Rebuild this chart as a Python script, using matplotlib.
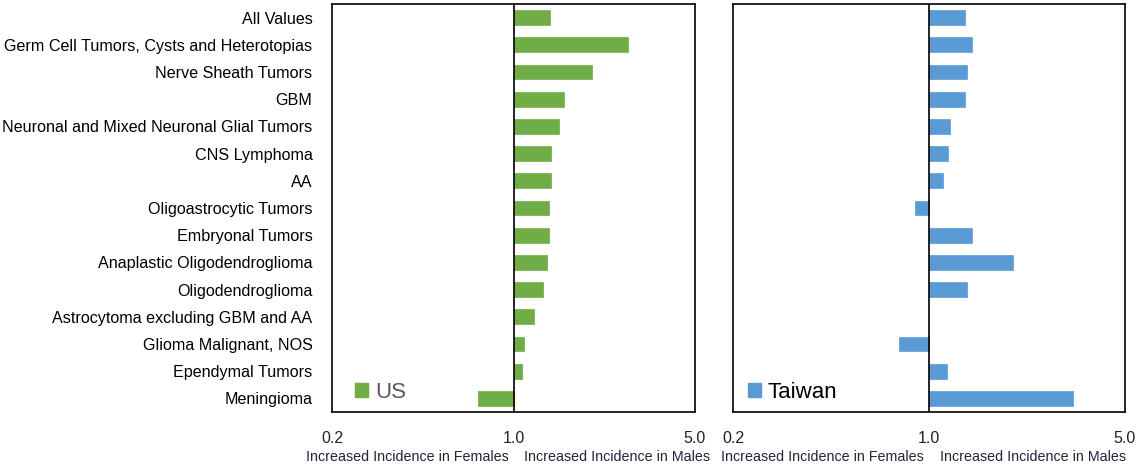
import numpy as np
import matplotlib
matplotlib.use('Agg')
import matplotlib.pyplot as plt
from matplotlib.patches import Patch

plt.rcParams['font.family'] = ['Liberation Sans', 'DejaVu Sans']

categories = ["All Values",
              "Germ Cell Tumors, Cysts and Heterotopias",
              "Nerve Sheath Tumors",
              "GBM",
              "Neuronal and Mixed Neuronal Glial Tumors",
              "CNS Lymphoma",
              "AA",
              "Oligoastrocytic Tumors",
              "Embryonal Tumors",
              "Anaplastic Oligodendroglioma",
              "Oligodendroglioma",
              "Astrocytoma excluding GBM and AA",
              "Glioma Malignant, NOS",
              "Ependymal Tumors",
              "Meningioma"]

# male:female incidence rate ratios
us_irr = [1.38, 2.76, 2.00, 1.57, 1.50, 1.40, 1.40, 1.37, 1.37,
          1.34, 1.30, 1.20, 1.10, 1.08, 0.73]
tw_irr = [1.34, 1.42, 1.37, 1.34, 1.19, 1.17, 1.12, 0.89, 1.42,
          1.99, 1.37, np.nan, 0.78, 1.16, 3.27]

panels = [("US", us_irr, "#70AD47", "#595959"),
          ("Taiwan", tw_irr, "#5B9BD5", "#000000")]

W, H = 1142, 467
fig = plt.figure(figsize=(W/100., H/100.), dpi=100)
boxes = [(332, 4, 695, 412), (733, 4, 1125, 412)]
leg_xy = [(0.063, 0.022), (0.038, 0.022)]

y = np.arange(len(categories))
for i, (name, vals, color, tcolor) in enumerate(panels):
    x0, y0, x1, y1 = boxes[i]
    ax = fig.add_axes([x0/W, 1 - y1/H, (x1-x0)/W, (y1-y0)/H])
    vals = np.array(vals, dtype=float)
    ok = ~np.isnan(vals)
    ax.barh(y[ok], vals[ok] - 1.0, left=1.0, height=0.55, color=color,
            edgecolor=color, linewidth=0.5, zorder=2)
    ax.set_xscale('log')
    ax.set_xlim(0.2, 5.0)
    ax.set_ylim(len(categories) - 0.5, -0.5)
    ax.axvline(1.0, color='black', lw=1.2, zorder=3)
    ax.set_xticks([0.2, 1.0, 5.0])
    ax.set_xticklabels(["0.2", "1.0", "5.0"])
    ax.xaxis.set_minor_locator(matplotlib.ticker.NullLocator())
    ax.tick_params(axis='x', length=0, pad=14, labelsize=11.5,
                   colors='#222222')
    if i == 0:
        ax.set_yticks(y)
        ax.set_yticklabels(categories)
        ax.tick_params(axis='y', length=0, pad=14, labelsize=11.6)
    else:
        ax.set_yticks([])
    for sp in ax.spines.values():
        sp.set_linewidth(1.2)
        sp.set_color('black')

    lab_col = '#2b1f3a'
    ax.annotate("Increased Incidence in Females", xy=(1.0, 0),
                xycoords=('data', 'axes fraction'), xytext=(-5, -45),
                textcoords='offset pixels', ha='right', va='center',
                fontsize=10.3, color=lab_col)
    ax.annotate("Increased Incidence in Males", xy=(1.0, 0),
                xycoords=('data', 'axes fraction'), xytext=(11, -45),
                textcoords='offset pixels', ha='left', va='center',
                fontsize=10.3, color=lab_col)

    leg = ax.legend(handles=[Patch(color=color, label=name)],
                    loc='lower left', bbox_to_anchor=leg_xy[i],
                    borderaxespad=0, borderpad=0,
                    frameon=False, handlelength=0.6, handleheight=0.6,
                    handletextpad=0.3, fontsize=16)
    for t in leg.get_texts():
        t.set_color(tcolor)

fig.savefig("out.png", dpi=100)
